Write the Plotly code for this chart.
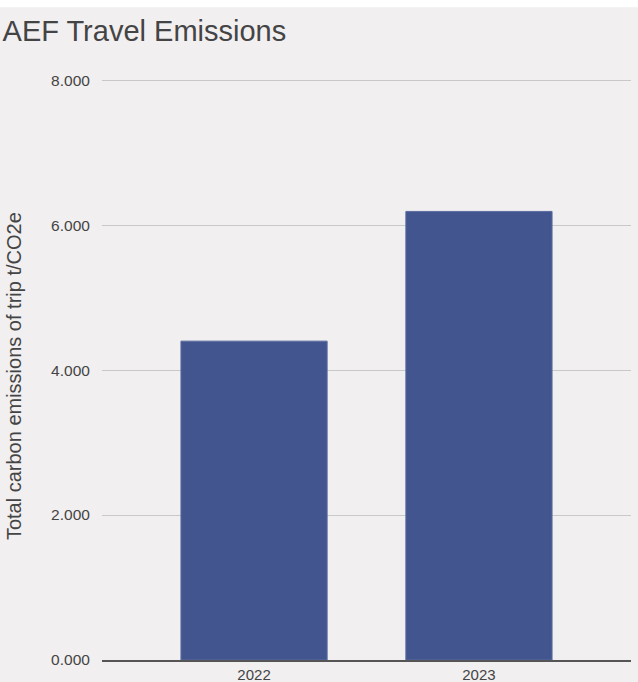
import plotly.graph_objects as go

years = ["2022", "2023"]
emissions = [4.40, 6.19]
tick_vals = [0, 2, 4, 6, 8]
tick_text = ["0.000", "2.000", "4.000", "6.000", "8.000"]

bg = "#F1EFF0"
T, B = 72.75, 22
H = 682 - T - B
fig = go.Figure(go.Bar(
    x=years, y=emissions, width=0.65,
    marker=dict(color="#43558F", line=dict(color="#5A6BA0", width=1)),
))
fig.update_layout(
    width=638, height=682,
    paper_bgcolor=bg, plot_bgcolor=bg,
    margin=dict(l=102, r=7, t=T, b=B),
    font=dict(family="Liberation Sans, Arial, sans-serif", color="#444444", size=15),
    title=dict(text="AEF Travel Emissions", x=0.004, xanchor="left", y=0.955, yanchor="middle",
               font=dict(size=29, color="#444444")),
    showlegend=False,
    shapes=[dict(type="rect", xref="paper", yref="paper", x0=-0.5, x1=1.5,
                 y0=(660 - 7) / H, y1=1.5, fillcolor="white", line=dict(width=0), layer="above")],
    annotations=[dict(text="Total carbon emissions of trip t/CO2e", xref="paper", yref="paper",
                      x=(14 - 102) / 529, y=(660 - 376) / H, xanchor="center", yanchor="middle",
                      textangle=-90, showarrow=False, font=dict(size=20, color="#444444"))],
)
fig.update_xaxes(type="category", range=[-0.676, 1.676], showgrid=False, automargin=False,
                 showline=True, linecolor="#555555", linewidth=1.5, ticks="",
                 tickfont=dict(size=15, color="#444444"))
fig.update_yaxes(range=[0, 8.1], tickvals=tick_vals, ticktext=tick_text, automargin=False,
                 showgrid=True, gridcolor="#C8C8C8", gridwidth=1, zeroline=False,
                 ticks="outside", ticklen=8, tickcolor=bg, tickfont=dict(size=15.5, color="#444444"))
fig.write_html("out.html")
